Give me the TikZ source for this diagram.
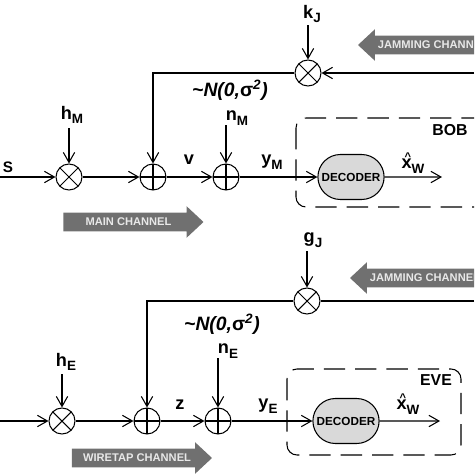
\documentclass[tikz,border=0pt]{standalone}
\usepackage{fontspec}
\setmainfont{Liberation Sans}
\usepackage{tikz}
\usetikzlibrary{arrows.meta, shapes.misc, shapes.arrows}
\definecolor{ChanGray}{RGB}{112,112,112}
\definecolor{ChanText}{RGB}{232,232,232}
\newcommand{\lowsub}[1]{\raisebox{-3.8pt}{\fontsize{11.5}{13}\selectfont #1}}
\newcommand{\hatx}{\makebox[0pt][l]{\hspace{2.5pt}\raisebox{0.45em}{\fontsize{9.5}{10}\selectfont\^{}}}x}
\newcommand{\noiselaw}{{\itshape\textasciitilde N(0,{\upshape σ}\textsuperscript{2})}}

\begin{document}
\begin{tikzpicture}[x=0.03cm, y=-0.03cm, line width=0.9pt,
          mult/.style={circle, draw, minimum size=0.78cm, inner sep=0pt,
                       path picture={\draw (path picture bounding box.north west)
                         -- (path picture bounding box.south east)
                         (path picture bounding box.south west)
                         -- (path picture bounding box.north east);}},
          add/.style={circle, draw, minimum size=0.78cm, inner sep=0pt,
                      path picture={\draw (path picture bounding box.north)
                        -- (path picture bounding box.south)
                        (path picture bounding box.west)
                        -- (path picture bounding box.east);}},
          decoder/.style={rounded rectangle, draw, fill=black!15,
                          minimum width=2.22cm, minimum height=1.35cm,
                          font=\fontsize{10}{12}\selectfont\bfseries},
          sig/.style={-{Straight Barb[length=3mm, width=3.4mm]}},
          lbl/.style={font=\fontsize{15.5}{17}\selectfont\bfseries, inner sep=0pt},
          boxname/.style={font=\fontsize{13.5}{15}\selectfont\bfseries, inner sep=0pt},
          chan/.style={single arrow, fill=ChanGray, text=ChanText,
                       font=\fontsize{9.5}{10}\selectfont\bfseries,
                       single arrow head extend=0.195cm, single arrow tip angle=86,
                       text height=6pt, text depth=0pt, inner ysep=4.5pt,
                       minimum height=4.2cm},
          rx/.style={dash pattern=on 0.64cm off 0.3cm, rounded corners=0.3cm}
        ]
        \useasboundingbox (0,0) rectangle (474,474);
        \clip (0,0) rectangle (474,474);

        % Main channel (Bob)
        \coordinate (sIn) at (0,177);
        \node[lbl, font=\fontsize{13}{15}\selectfont\bfseries] (s) at (8,167) {S};
        \node[mult] (multM) at (69,177) {};
        \node[add] (addJM) at (153,177) {};
        \node[add] (addNM) at (226,177) {};
        \node[decoder] (decB) at (351,177) {DECODER};
        \coordinate (outB) at (442,177);
        \draw[sig] (sIn) -- (multM);
        \draw[sig] (multM) -- (addJM);
        \draw[sig] (addJM) -- (addNM);
        \draw[sig] (addNM) -- (decB);
        \draw[sig] (decB) -- (outB);
        \node[lbl] (hM) at (72,115) {h\lowsub{M}};
        \coordinate (hMin) at (69,128);
        \draw[sig] (hMin) -- (multM);
        \node[lbl] (v) at (189,160) {v};
        \node[lbl] (nM) at (237,118) {n\lowsub{M}};
        \coordinate (nMin) at (226,125);
        \draw[sig] (nMin) -- (addNM);
        \node[lbl] (yM) at (272,162) {y\lowsub{M}};
        \node[lbl] (xB) at (413,163) {\hatx\lowsub{W}};
        \node[lbl, font=\fontsize{16.5}{18}\selectfont\bfseries] (lawM) at (230,90) {\noiselaw};

        % Jamming into Bob
        \node[mult] (multK) at (308,73) {};
        \node[lbl] (kJ) at (312,14) {k\lowsub{J}};
        \coordinate (kJin) at (308,25);
        \coordinate (jamM) at (474,73);
        \draw[sig] (kJin) -- (multK);
        \draw[sig] (jamM) -- (multK);
        \draw[sig] (multK) -| (addJM);

        % Bob's receiver
        \draw[rx] (296,118) rectangle (500,207);
        \node[boxname] (bob) at (450,130) {BOB};

        \node[chan] (mainch) at (128.5,222) {MAIN CHANNEL};
        \node[chan, shape border rotate=180] (jamchM) at (433,45) {JAMMING CHANNEL};

        % Wiretap channel (Eve)
        \coordinate (sInE) at (0,421);
        \node[mult] (multE) at (62,421) {};
        \node[add] (addJE) at (147,421) {};
        \node[add] (addNE) at (218,421) {};
        \node[decoder] (decE) at (346,421) {DECODER};
        \coordinate (outE) at (440,421);
        \draw[sig] (sInE) -- (multE);
        \draw[sig] (multE) -- (addJE);
        \draw[sig] (addJE) -- (addNE);
        \draw[sig] (addNE) -- (decE);
        \draw[sig] (decE) -- (outE);
        \node[lbl] (hE) at (66,362) {h\lowsub{E}};
        \coordinate (hEin) at (62,374);
        \draw[sig] (hEin) -- (multE);
        \node[lbl] (z) at (180,405) {z};
        \node[lbl] (nE) at (228,351) {n\lowsub{E}};
        \coordinate (nEin) at (218,358);
        \draw[sig] (nEin) -- (addNE);
        \node[lbl] (yE) at (268,406) {y\lowsub{E}};
        \node[lbl] (xE) at (408,404) {\hatx\lowsub{W}};
        \node[lbl, font=\fontsize{16.5}{18}\selectfont\bfseries] (lawE) at (222,324) {\noiselaw};

        % Jamming into Eve
        \node[mult] (multG) at (307,301) {};
        \node[lbl] (gJ) at (313,240) {g\lowsub{J}};
        \coordinate (gJin) at (307,251);
        \coordinate (jamE) at (474,301);
        \draw[sig] (gJin) -- (multG);
        \draw (jamE) -- (multG);
        \draw[sig] (multG) -| (addJE);

        % Eve's receiver
        \draw[rx] (287,369) rectangle (461,455);
        \node[boxname] (eve) at (436,380) {EVE};

        \node[chan] (wirech) at (137,458) {WIRETAP CHANNEL};
        \node[chan, shape border rotate=180] (jamchE) at (425,278) {JAMMING CHANNEL};
      \end{tikzpicture}
\end{document}
